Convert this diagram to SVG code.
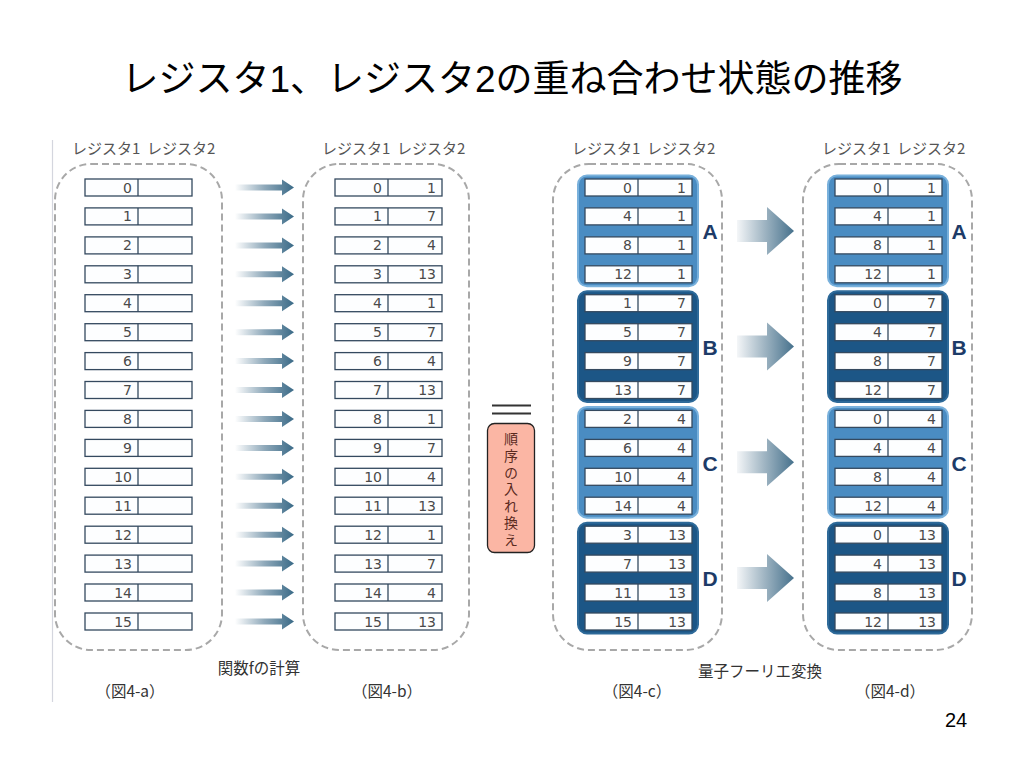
<svg xmlns="http://www.w3.org/2000/svg" xmlns:xlink="http://www.w3.org/1999/xlink" width="1024" height="768" viewBox="0 0 1024 768">
<defs>
<style>
.title{font-family:"Liberation Sans","Noto Sans CJK JP",sans-serif;font-size:37px;fill:#000}
.hdr{font-family:"Noto Sans CJK JP",sans-serif;font-size:15px;fill:#555}
.n{font-family:"DejaVu Sans","Liberation Sans",sans-serif;font-size:14px;fill:#4a4a4a;text-anchor:end}
.cell{fill:#fdfeff;stroke:#34495f;stroke-width:1.3}
.cont{fill:none;stroke:#a8a8a8;stroke-width:2;stroke-dasharray:7 4}
.gl{fill:#4a8cc2;stroke:#79b1dc;stroke-width:2}
.gd{fill:#1c5686;stroke:#2e6a99;stroke-width:2}
.let{font-family:"Liberation Sans",sans-serif;font-size:21px;font-weight:bold;fill:#1d3b68;text-anchor:middle}
.lbl{font-family:"Noto Sans CJK JP",sans-serif;font-size:15.5px;fill:#333;text-anchor:middle}
.sa{fill:url(#gs)}
.ba{fill:url(#gb)}
</style>
<linearGradient id="gs" x1="0" y1="0" x2="1" y2="0">
<stop offset="0" stop-color="#ffffff"/>
<stop offset="0.5" stop-color="#8fa9ba"/>
<stop offset="1" stop-color="#3a6a87"/>
</linearGradient>
<linearGradient id="gb" x1="0" y1="0" x2="1" y2="0">
<stop offset="0" stop-color="#f4f6f8"/>
<stop offset="0.45" stop-color="#a5b9c6"/>
<stop offset="1" stop-color="#46718c"/>
</linearGradient>
<g id="box"><rect class="cell" x="0" y="-8.5" width="107" height="17"/><line x1="53" y1="-8.5" x2="53" y2="8.5" stroke="#34495f" stroke-width="1.3"/></g>
<path id="sarrow" class="sa" d="M0,-3 H47 V-8 L59,0 L47,8 V3 H0 Z"/>
<path id="barrow" class="ba" d="M0,-11 H30 V-24 L57,0 L30,24 V11 H0 Z"/>
</defs>
<rect width="1024" height="768" fill="#fff"/>
<text class="title" x="512" y="92" text-anchor="middle">レジスタ1、レジスタ2の重ね合わせ状態の推移</text>
<line x1="52.5" y1="140" x2="52.5" y2="702" stroke="#d4d6de" stroke-width="1.2"/>

<g id="headers">
<text class="hdr" x="72" y="154">レジスタ1</text><text class="hdr" x="147" y="154">レジスタ2</text>
<text class="hdr" x="322" y="154">レジスタ1</text><text class="hdr" x="397" y="154">レジスタ2</text>
<text class="hdr" x="572" y="154">レジスタ1</text><text class="hdr" x="647" y="154">レジスタ2</text>
<text class="hdr" x="822" y="154">レジスタ1</text><text class="hdr" x="897" y="154">レジスタ2</text>
</g>

<g id="containers">
<rect class="cont" x="55" y="164" width="167" height="486" rx="36"/>
<rect class="cont" x="303" y="164" width="166" height="486" rx="36"/>
<rect class="cont" x="553" y="164" width="169" height="486" rx="36"/>
<rect class="cont" x="803" y="164" width="169" height="486" rx="36"/>
</g>

<g id="groups">
<g id="gA-c"><rect class="gl" x="578" y="175.5" width="120" height="110.8" rx="9"/><text class="let" x="710" y="239">A</text></g>
<g id="gB-c"><rect class="gd" x="578" y="291.2" width="120" height="110.8" rx="9"/><text class="let" x="710" y="355">B</text></g>
<g id="gC-c"><rect class="gl" x="578" y="406.9" width="120" height="110.8" rx="9"/><text class="let" x="710" y="471">C</text></g>
<g id="gD-c"><rect class="gd" x="578" y="522.7" width="120" height="110.8" rx="9"/><text class="let" x="710" y="586">D</text></g>
<g id="gA-d"><rect class="gl" x="828" y="175.5" width="120" height="110.8" rx="9"/><text class="let" x="959" y="239">A</text></g>
<g id="gB-d"><rect class="gd" x="828" y="291.2" width="120" height="110.8" rx="9"/><text class="let" x="959" y="355">B</text></g>
<g id="gC-d"><rect class="gl" x="828" y="406.9" width="120" height="110.8" rx="9"/><text class="let" x="959" y="471">C</text></g>
<g id="gD-d"><rect class="gd" x="828" y="522.7" width="120" height="110.8" rx="9"/><text class="let" x="959" y="586">D</text></g>
</g>

<g id="col-a">
<g id="a0" transform="translate(85,187.5)"><use href="#box"/><text class="n" x="47" y="5">0</text></g>
<g id="a1" transform="translate(85,216.4)"><use href="#box"/><text class="n" x="47" y="5">1</text></g>
<g id="a2" transform="translate(85,245.4)"><use href="#box"/><text class="n" x="47" y="5">2</text></g>
<g id="a3" transform="translate(85,274.3)"><use href="#box"/><text class="n" x="47" y="5">3</text></g>
<g id="a4" transform="translate(85,303.2)"><use href="#box"/><text class="n" x="47" y="5">4</text></g>
<g id="a5" transform="translate(85,332.2)"><use href="#box"/><text class="n" x="47" y="5">5</text></g>
<g id="a6" transform="translate(85,361.1)"><use href="#box"/><text class="n" x="47" y="5">6</text></g>
<g id="a7" transform="translate(85,390)"><use href="#box"/><text class="n" x="47" y="5">7</text></g>
<g id="a8" transform="translate(85,418.9)"><use href="#box"/><text class="n" x="47" y="5">8</text></g>
<g id="a9" transform="translate(85,447.9)"><use href="#box"/><text class="n" x="47" y="5">9</text></g>
<g id="a10" transform="translate(85,476.8)"><use href="#box"/><text class="n" x="47" y="5">10</text></g>
<g id="a11" transform="translate(85,505.7)"><use href="#box"/><text class="n" x="47" y="5">11</text></g>
<g id="a12" transform="translate(85,534.7)"><use href="#box"/><text class="n" x="47" y="5">12</text></g>
<g id="a13" transform="translate(85,563.6)"><use href="#box"/><text class="n" x="47" y="5">13</text></g>
<g id="a14" transform="translate(85,592.5)"><use href="#box"/><text class="n" x="47" y="5">14</text></g>
<g id="a15" transform="translate(85,621.5)"><use href="#box"/><text class="n" x="47" y="5">15</text></g>
</g>

<g id="col-b">
<g id="b0" transform="translate(335,187.5)"><use href="#box"/><text class="n" x="47" y="5">0</text><text class="n" x="101" y="5">1</text></g>
<g id="b1" transform="translate(335,216.4)"><use href="#box"/><text class="n" x="47" y="5">1</text><text class="n" x="101" y="5">7</text></g>
<g id="b2" transform="translate(335,245.4)"><use href="#box"/><text class="n" x="47" y="5">2</text><text class="n" x="101" y="5">4</text></g>
<g id="b3" transform="translate(335,274.3)"><use href="#box"/><text class="n" x="47" y="5">3</text><text class="n" x="101" y="5">13</text></g>
<g id="b4" transform="translate(335,303.2)"><use href="#box"/><text class="n" x="47" y="5">4</text><text class="n" x="101" y="5">1</text></g>
<g id="b5" transform="translate(335,332.2)"><use href="#box"/><text class="n" x="47" y="5">5</text><text class="n" x="101" y="5">7</text></g>
<g id="b6" transform="translate(335,361.1)"><use href="#box"/><text class="n" x="47" y="5">6</text><text class="n" x="101" y="5">4</text></g>
<g id="b7" transform="translate(335,390)"><use href="#box"/><text class="n" x="47" y="5">7</text><text class="n" x="101" y="5">13</text></g>
<g id="b8" transform="translate(335,418.9)"><use href="#box"/><text class="n" x="47" y="5">8</text><text class="n" x="101" y="5">1</text></g>
<g id="b9" transform="translate(335,447.9)"><use href="#box"/><text class="n" x="47" y="5">9</text><text class="n" x="101" y="5">7</text></g>
<g id="b10" transform="translate(335,476.8)"><use href="#box"/><text class="n" x="47" y="5">10</text><text class="n" x="101" y="5">4</text></g>
<g id="b11" transform="translate(335,505.7)"><use href="#box"/><text class="n" x="47" y="5">11</text><text class="n" x="101" y="5">13</text></g>
<g id="b12" transform="translate(335,534.7)"><use href="#box"/><text class="n" x="47" y="5">12</text><text class="n" x="101" y="5">1</text></g>
<g id="b13" transform="translate(335,563.6)"><use href="#box"/><text class="n" x="47" y="5">13</text><text class="n" x="101" y="5">7</text></g>
<g id="b14" transform="translate(335,592.5)"><use href="#box"/><text class="n" x="47" y="5">14</text><text class="n" x="101" y="5">4</text></g>
<g id="b15" transform="translate(335,621.5)"><use href="#box"/><text class="n" x="47" y="5">15</text><text class="n" x="101" y="5">13</text></g>
</g>

<g id="col-c">
<g id="c0" transform="translate(585,187.5)"><use href="#box"/><text class="n" x="47" y="5">0</text><text class="n" x="101" y="5">1</text></g>
<g id="c1" transform="translate(585,216.4)"><use href="#box"/><text class="n" x="47" y="5">4</text><text class="n" x="101" y="5">1</text></g>
<g id="c2" transform="translate(585,245.4)"><use href="#box"/><text class="n" x="47" y="5">8</text><text class="n" x="101" y="5">1</text></g>
<g id="c3" transform="translate(585,274.3)"><use href="#box"/><text class="n" x="47" y="5">12</text><text class="n" x="101" y="5">1</text></g>
<g id="c4" transform="translate(585,303.2)"><use href="#box"/><text class="n" x="47" y="5">1</text><text class="n" x="101" y="5">7</text></g>
<g id="c5" transform="translate(585,332.2)"><use href="#box"/><text class="n" x="47" y="5">5</text><text class="n" x="101" y="5">7</text></g>
<g id="c6" transform="translate(585,361.1)"><use href="#box"/><text class="n" x="47" y="5">9</text><text class="n" x="101" y="5">7</text></g>
<g id="c7" transform="translate(585,390)"><use href="#box"/><text class="n" x="47" y="5">13</text><text class="n" x="101" y="5">7</text></g>
<g id="c8" transform="translate(585,418.9)"><use href="#box"/><text class="n" x="47" y="5">2</text><text class="n" x="101" y="5">4</text></g>
<g id="c9" transform="translate(585,447.9)"><use href="#box"/><text class="n" x="47" y="5">6</text><text class="n" x="101" y="5">4</text></g>
<g id="c10" transform="translate(585,476.8)"><use href="#box"/><text class="n" x="47" y="5">10</text><text class="n" x="101" y="5">4</text></g>
<g id="c11" transform="translate(585,505.7)"><use href="#box"/><text class="n" x="47" y="5">14</text><text class="n" x="101" y="5">4</text></g>
<g id="c12" transform="translate(585,534.7)"><use href="#box"/><text class="n" x="47" y="5">3</text><text class="n" x="101" y="5">13</text></g>
<g id="c13" transform="translate(585,563.6)"><use href="#box"/><text class="n" x="47" y="5">7</text><text class="n" x="101" y="5">13</text></g>
<g id="c14" transform="translate(585,592.5)"><use href="#box"/><text class="n" x="47" y="5">11</text><text class="n" x="101" y="5">13</text></g>
<g id="c15" transform="translate(585,621.5)"><use href="#box"/><text class="n" x="47" y="5">15</text><text class="n" x="101" y="5">13</text></g>
</g>

<g id="col-d">
<g id="d0" transform="translate(835,187.5)"><use href="#box"/><text class="n" x="47" y="5">0</text><text class="n" x="101" y="5">1</text></g>
<g id="d1" transform="translate(835,216.4)"><use href="#box"/><text class="n" x="47" y="5">4</text><text class="n" x="101" y="5">1</text></g>
<g id="d2" transform="translate(835,245.4)"><use href="#box"/><text class="n" x="47" y="5">8</text><text class="n" x="101" y="5">1</text></g>
<g id="d3" transform="translate(835,274.3)"><use href="#box"/><text class="n" x="47" y="5">12</text><text class="n" x="101" y="5">1</text></g>
<g id="d4" transform="translate(835,303.2)"><use href="#box"/><text class="n" x="47" y="5">0</text><text class="n" x="101" y="5">7</text></g>
<g id="d5" transform="translate(835,332.2)"><use href="#box"/><text class="n" x="47" y="5">4</text><text class="n" x="101" y="5">7</text></g>
<g id="d6" transform="translate(835,361.1)"><use href="#box"/><text class="n" x="47" y="5">8</text><text class="n" x="101" y="5">7</text></g>
<g id="d7" transform="translate(835,390)"><use href="#box"/><text class="n" x="47" y="5">12</text><text class="n" x="101" y="5">7</text></g>
<g id="d8" transform="translate(835,418.9)"><use href="#box"/><text class="n" x="47" y="5">0</text><text class="n" x="101" y="5">4</text></g>
<g id="d9" transform="translate(835,447.9)"><use href="#box"/><text class="n" x="47" y="5">4</text><text class="n" x="101" y="5">4</text></g>
<g id="d10" transform="translate(835,476.8)"><use href="#box"/><text class="n" x="47" y="5">8</text><text class="n" x="101" y="5">4</text></g>
<g id="d11" transform="translate(835,505.7)"><use href="#box"/><text class="n" x="47" y="5">12</text><text class="n" x="101" y="5">4</text></g>
<g id="d12" transform="translate(835,534.7)"><use href="#box"/><text class="n" x="47" y="5">0</text><text class="n" x="101" y="5">13</text></g>
<g id="d13" transform="translate(835,563.6)"><use href="#box"/><text class="n" x="47" y="5">4</text><text class="n" x="101" y="5">13</text></g>
<g id="d14" transform="translate(835,592.5)"><use href="#box"/><text class="n" x="47" y="5">8</text><text class="n" x="101" y="5">13</text></g>
<g id="d15" transform="translate(835,621.5)"><use href="#box"/><text class="n" x="47" y="5">12</text><text class="n" x="101" y="5">13</text></g>
</g>

<g id="connectors">
<use href="#sarrow" x="235" y="187.5"/>
<use href="#sarrow" x="235" y="216.4"/>
<use href="#sarrow" x="235" y="245.4"/>
<use href="#sarrow" x="235" y="274.3"/>
<use href="#sarrow" x="235" y="303.2"/>
<use href="#sarrow" x="235" y="332.2"/>
<use href="#sarrow" x="235" y="361.1"/>
<use href="#sarrow" x="235" y="390"/>
<use href="#sarrow" x="235" y="418.9"/>
<use href="#sarrow" x="235" y="447.9"/>
<use href="#sarrow" x="235" y="476.8"/>
<use href="#sarrow" x="235" y="505.7"/>
<use href="#sarrow" x="235" y="534.7"/>
<use href="#sarrow" x="235" y="563.6"/>
<use href="#sarrow" x="235" y="592.5"/>
<use href="#sarrow" x="235" y="621.5"/>
<use href="#barrow" x="737" y="230.9"/>
<use href="#barrow" x="737" y="346.6"/>
<use href="#barrow" x="737" y="462.3"/>
<use href="#barrow" x="737" y="578.1"/>
</g>

<g id="equiv">
<line x1="492" y1="405.5" x2="531" y2="405.5" stroke="#333" stroke-width="2"/>
<line x1="492" y1="413.5" x2="531" y2="413.5" stroke="#333" stroke-width="2"/>
</g>
<g id="reorder">
<rect x="487.5" y="423.5" width="47" height="129" rx="7" fill="#fbb6a4" stroke="#222" stroke-width="1.3"/>
<text x="511" y="432" style="writing-mode:vertical-rl" font-family="Noto Sans CJK JP,sans-serif" font-size="14" letter-spacing="2.7" fill="#5a2a1e">順序の入れ換え</text>
</g>

<g id="labels">
<text class="lbl" x="259" y="674">関数fの計算</text>
<text class="lbl" x="130" y="697">（図4-a）</text>
<text class="lbl" x="387" y="697">（図4-b）</text>
<text class="lbl" x="760" y="677">量子フーリエ変換</text>
<text class="lbl" x="637" y="697">（図4-c）</text>
<text class="lbl" x="890" y="697">（図4-d）</text>
</g>
<text x="956" y="727" font-family="Liberation Sans,sans-serif" font-size="20" fill="#000" text-anchor="middle">24</text>
</svg>
